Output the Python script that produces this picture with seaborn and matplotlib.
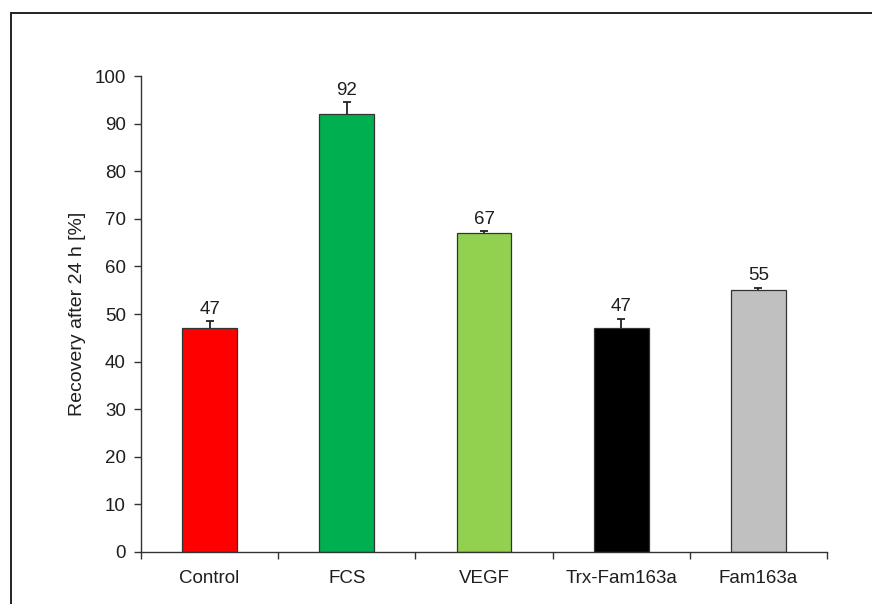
import matplotlib
matplotlib.use("Agg")
import matplotlib.pyplot as plt
from matplotlib.lines import Line2D
import numpy as np
import pandas as pd
import seaborn as sns

# Recovery data
categories = ["Control", "FCS", "VEGF", "Trx-Fam163a", "Fam163a"]
recovery = [47, 92, 67, 47, 55]
errors = [1.5, 2.5, 0.4, 2.0, 0.5]
bar_colors = ["#FF0000", "#00B050", "#92D050", "#000000", "#C0C0C0"]
y_ticks = [0, 10, 20, 30, 40, 50, 60, 70, 80, 90, 100]

sns.set_theme(style="white")
plt.rcParams["font.family"] = ["Liberation Sans", "DejaVu Sans"]

FS = 13.5
TXT = "#1e1e1e"

df = pd.DataFrame({"group": categories, "value": recovery})

fig = plt.figure(figsize=(8.72, 6.04), dpi=100)
ax = fig.add_axes([0.1617, 0.0861, 0.7867, 0.7880])

sns.barplot(data=df, x="group", y="value", hue="group", palette=bar_colors,
            width=0.4, edgecolor="#333333", linewidth=0.9, legend=False,
            saturation=1, ax=ax)

x = np.arange(len(categories))
_, caps, _ = ax.errorbar(x, recovery, yerr=[np.zeros(len(errors)), errors],
                         fmt="none", ecolor="#222222", elinewidth=1.3,
                         capsize=3, capthick=1.3)
# upper cap only
caps[0].set_visible(False)

for xi, v, e in zip(x, recovery, errors):
    ax.annotate(f"{v}", (xi, v + e), xytext=(0, 2.5), textcoords="offset points",
                ha="center", va="bottom", fontsize=FS, color=TXT)

ax.set_xlim(-0.5, len(categories) - 0.5)
ax.set_ylim(0, 100)
ax.set_yticks(y_ticks)
ax.set_xlabel("")
ax.set_ylabel("Recovery after 24 h [%]", fontsize=14, color=TXT)
ax.yaxis.set_label_coords(-0.0805, 0.5)

# category boundary ticks on the x axis, labels centred between them
ax.set_xticks(x)
ax.set_xticks(np.arange(-0.5, len(categories), 1.0), minor=True)
ax.tick_params(axis="x", which="major", length=0, pad=13, labelsize=FS,
               labelcolor=TXT)
ax.tick_params(axis="x", which="minor", length=5, width=1, color="#333333",
               direction="out", bottom=True)
ax.tick_params(axis="y", which="major", length=5, width=1, color="#333333",
               direction="out", left=True, pad=6, labelsize=FS,
               labelcolor=TXT)

for side in ["top", "right"]:
    ax.spines[side].set_visible(False)
for side in ["left", "bottom"]:
    ax.spines[side].set_color("#333333")
    ax.spines[side].set_linewidth(1.0)

# outer frame lines
fy = 1 - 13 / 604
fx = 11 / 872
fig.add_artist(Line2D([fx, 1.0], [fy, fy], transform=fig.transFigure,
                      color="#222222", linewidth=1.4))
fig.add_artist(Line2D([fx, fx], [0.0, fy], transform=fig.transFigure,
                      color="#222222", linewidth=1.4))

fig.savefig("out.png", dpi=100, facecolor="white")
